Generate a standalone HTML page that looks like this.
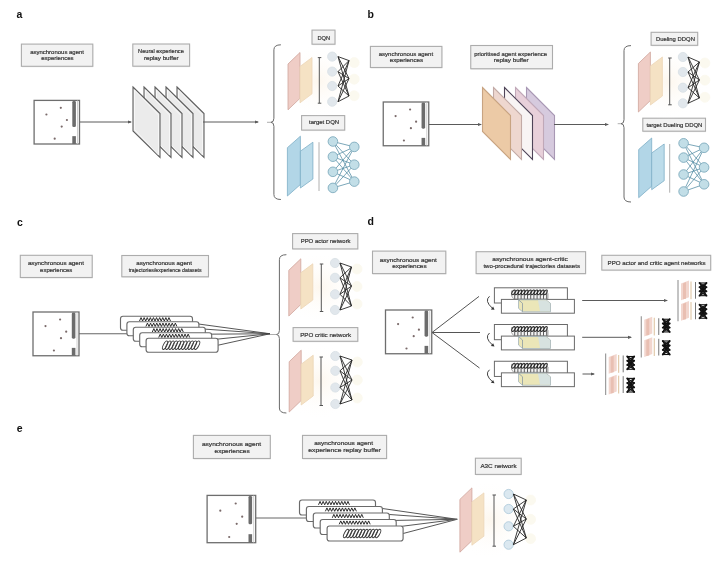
<!DOCTYPE html>
<html><head><meta charset="utf-8"><style>
html,body{margin:0;padding:0;background:#fff;width:727px;height:561px;overflow:hidden}
svg{display:block;filter:blur(0.3px)}
</style></head><body>
<svg width="727" height="561" viewBox="0 0 727 561" font-family='"Liberation Sans", sans-serif'>
<defs><radialGradient id="warm" cx="0.5" cy="0.5" r="0.5"><stop offset="0" stop-color="#fdf7ee"/><stop offset="1" stop-color="#fff" stop-opacity="0"/></radialGradient></defs>
<rect width="727" height="561" fill="#fff"/>
<text x="16.5" y="18" font-size="10.5" font-weight="bold" fill="#111">a</text>
<rect x="21.9" y="45.1" width="71.4" height="22.199999999999996" fill="#d8d8d8" opacity="0.45"/>
<rect x="21.4" y="44.1" width="71.4" height="22.199999999999996" fill="#f2f2f2" stroke="#acacac" stroke-width="1.1"/>
<text x="30.2" y="54.00" font-size="6" fill="#343434" stroke="#343434" stroke-width="0.2" textLength="53.8" lengthAdjust="spacingAndGlyphs">asynchronous agent</text>
<text x="41.3" y="60.40" font-size="6" fill="#343434" stroke="#343434" stroke-width="0.2" textLength="32.2" lengthAdjust="spacingAndGlyphs">experiences</text>
<rect x="133.3" y="45" width="56.79999999999998" height="22.200000000000003" fill="#d8d8d8" opacity="0.45"/>
<rect x="132.8" y="44" width="56.79999999999998" height="22.200000000000003" fill="#f2f2f2" stroke="#acacac" stroke-width="1.1"/>
<text x="138.1" y="53.40" font-size="6" fill="#343434" stroke="#343434" stroke-width="0.2" textLength="45.7" lengthAdjust="spacingAndGlyphs">Neural experience</text>
<text x="143.9" y="60.40" font-size="6" fill="#343434" stroke="#343434" stroke-width="0.2" textLength="34.6" lengthAdjust="spacingAndGlyphs">replay buffer</text>
<rect x="34.1" y="100.4" width="45.4" height="43.599999999999994" fill="#fff" stroke="#6e6e6e" stroke-width="1.3"/>
<rect x="72.3" y="100.9" width="3.6" height="26.159999999999997" rx="1.4" fill="#6c6c6c"/>
<rect x="72.3" y="136.152" width="3.6" height="7.847999999999999" fill="#6c6c6c"/>
<line x1="77.5" y1="100.4" x2="77.5" y2="144" stroke="#c4c4c4" stroke-width="0.8"/>
<circle cx="46.4" cy="114.5" r="1.1" fill="#7a6a6a"/>
<circle cx="60.8" cy="107.8" r="1.1" fill="#7a6a6a"/>
<circle cx="66.9" cy="120.0" r="1.1" fill="#7a6a6a"/>
<circle cx="61.7" cy="126.6" r="1.1" fill="#7a6a6a"/>
<circle cx="54.7" cy="138.7" r="1.1" fill="#7a6a6a"/>
<line x1="80" y1="122" x2="131" y2="122" stroke="#5a5a5a" stroke-width="1.0"/>
<path d="M132,122 L128,120.4 L128,123.6 Z" fill="#5a5a5a"/>
<path d="M177,87 L204,113.5 L204,157.5 L177,131 Z" fill="#ebebeb" stroke="#5e5e5e" stroke-width="1.1"/>
<path d="M178.5,90 L202.5,115.0 L202.5,155.0 L178.5,129.5 Z" fill="none" stroke="#fafafa" stroke-width="0.8"/>
<path d="M166,87 L193,113.5 L193,157.5 L166,131 Z" fill="#ebebeb" stroke="#5e5e5e" stroke-width="1.1"/>
<path d="M167.5,90 L191.5,115.0 L191.5,155.0 L167.5,129.5 Z" fill="none" stroke="#fafafa" stroke-width="0.8"/>
<path d="M155,87 L182,113.5 L182,157.5 L155,131 Z" fill="#ebebeb" stroke="#5e5e5e" stroke-width="1.1"/>
<path d="M156.5,90 L180.5,115.0 L180.5,155.0 L156.5,129.5 Z" fill="none" stroke="#fafafa" stroke-width="0.8"/>
<path d="M144,87 L171,113.5 L171,157.5 L144,131 Z" fill="#ebebeb" stroke="#5e5e5e" stroke-width="1.1"/>
<path d="M145.5,90 L169.5,115.0 L169.5,155.0 L145.5,129.5 Z" fill="none" stroke="#fafafa" stroke-width="0.8"/>
<path d="M133,87 L160,113.5 L160,157.5 L133,131 Z" fill="#ebebeb" stroke="#5e5e5e" stroke-width="1.1"/>
<path d="M134.5,90 L158.5,115.0 L158.5,155.0 L134.5,129.5 Z" fill="none" stroke="#fafafa" stroke-width="0.8"/>
<line x1="203" y1="122" x2="258" y2="122" stroke="#5a5a5a" stroke-width="1.0"/>
<path d="M259,122 L255,120.4 L255,123.6 Z" fill="#5a5a5a"/>
<path d="M280.9,44.8 Q273.9,44.8 273.9,49.8 L273.9,118.3 Q273.9,122.3 270.9,122.3 Q273.9,122.3 273.9,126.3 L273.9,194.5 Q273.9,199.5 280.9,199.5" fill="none" stroke="#6a6a6a" stroke-width="1"/>
<line x1="267" y1="122.3" x2="270.9" y2="122.3" stroke="#999" stroke-width="0.8"/>
<rect x="312.5" y="31.1" width="23" height="14.100000000000001" fill="#d8d8d8" opacity="0.45"/>
<rect x="312" y="30.1" width="23" height="14.100000000000001" fill="#f2f2f2" stroke="#acacac" stroke-width="1.1"/>
<text x="317.5" y="39.60" font-size="6" fill="#343434" stroke="#343434" stroke-width="0.2" textLength="12.7" lengthAdjust="spacingAndGlyphs">DQN</text>
<rect x="302.1" y="116.6" width="43.099999999999966" height="14.5" fill="#d8d8d8" opacity="0.45"/>
<rect x="301.6" y="115.6" width="43.099999999999966" height="14.5" fill="#f2f2f2" stroke="#acacac" stroke-width="1.1"/>
<text x="309" y="124.40" font-size="6" fill="#343434" stroke="#343434" stroke-width="0.2" textLength="30.1" lengthAdjust="spacingAndGlyphs">target DQN</text>
<ellipse cx="318" cy="81.15" rx="40" ry="36.65" fill="url(#warm)"/>
<path d="M288,64.0 L300,52.5 L300,98.3 L288,109.8 Z" fill="#efcdc6" stroke="#cfa49c" stroke-width="0.8" opacity="1"/>
<path d="M300,66.5 L312,57.5 L312,93.8 L300,102.8 Z" fill="#f5e2c4" stroke="#ecd6b8" stroke-width="0.8" opacity="1"/>
<line x1="319.3" y1="57.6" x2="319.3" y2="103.2" stroke="#555" stroke-width="1"/>
<line x1="317.8" y1="57.6" x2="321.3" y2="57.6" stroke="#555" stroke-width="1"/>
<line x1="317.8" y1="103.2" x2="321.3" y2="103.2" stroke="#555" stroke-width="1"/>
<circle cx="332.2" cy="56.6" r="4.6" fill="#e1e7ec" stroke="#d8dfe5" stroke-width="0.8" opacity="1"/>
<circle cx="332.2" cy="71.6" r="4.6" fill="#e1e7ec" stroke="#d8dfe5" stroke-width="0.8" opacity="1"/>
<circle cx="332.2" cy="86" r="4.6" fill="#e1e7ec" stroke="#d8dfe5" stroke-width="0.8" opacity="1"/>
<circle cx="332.2" cy="101.7" r="4.6" fill="#e1e7ec" stroke="#d8dfe5" stroke-width="0.8" opacity="1"/>
<circle cx="354.2" cy="62.6" r="5" fill="#fbf9ef" stroke="#fbf9ef" stroke-width="0.8" opacity="1"/>
<circle cx="354.2" cy="79.15" r="5" fill="#fbf9ef" stroke="#fbf9ef" stroke-width="0.8" opacity="1"/>
<circle cx="354.2" cy="95.7" r="5" fill="#fbf9ef" stroke="#fbf9ef" stroke-width="0.8" opacity="1"/>
<line x1="338" y1="56.6" x2="349" y2="60.6" stroke="#262626" stroke-width="0.9"/>
<line x1="338" y1="56.6" x2="349" y2="78.6" stroke="#262626" stroke-width="0.9"/>
<line x1="338" y1="56.6" x2="349" y2="96" stroke="#262626" stroke-width="0.9"/>
<line x1="338" y1="71.6" x2="349" y2="60.6" stroke="#262626" stroke-width="0.9"/>
<line x1="338" y1="71.6" x2="349" y2="78.6" stroke="#262626" stroke-width="0.9"/>
<line x1="338" y1="71.6" x2="349" y2="96" stroke="#262626" stroke-width="0.9"/>
<line x1="338" y1="86" x2="349" y2="60.6" stroke="#262626" stroke-width="0.9"/>
<line x1="338" y1="86" x2="349" y2="78.6" stroke="#262626" stroke-width="0.9"/>
<line x1="338" y1="86" x2="349" y2="96" stroke="#262626" stroke-width="0.9"/>
<line x1="338" y1="101.7" x2="349" y2="60.6" stroke="#262626" stroke-width="0.9"/>
<line x1="338" y1="101.7" x2="349" y2="78.6" stroke="#262626" stroke-width="0.9"/>
<line x1="338" y1="101.7" x2="349" y2="96" stroke="#262626" stroke-width="0.9"/>
<path d="M287.4,147.7 L300.4,136.2 L300.4,184.5 L287.4,196 Z" fill="#b2d6e7" stroke="#7eaec6" stroke-width="0.8" opacity="1"/>
<path d="M300.4,151.2 L312.9,142.2 L312.9,179 L300.4,188 Z" fill="#bcdcea" stroke="#7eaec6" stroke-width="0.8" opacity="1"/>
<line x1="319" y1="142.2" x2="319" y2="191" stroke="#b0b0b0" stroke-width="1"/>
<line x1="332.9" y1="141.5" x2="354.3" y2="146.9" stroke="#4f8aa2" stroke-width="0.75"/>
<line x1="332.9" y1="141.5" x2="354.3" y2="164.7" stroke="#4f8aa2" stroke-width="0.75"/>
<line x1="332.9" y1="141.5" x2="354.3" y2="181.6" stroke="#4f8aa2" stroke-width="0.75"/>
<line x1="332.9" y1="156.7" x2="354.3" y2="146.9" stroke="#4f8aa2" stroke-width="0.75"/>
<line x1="332.9" y1="156.7" x2="354.3" y2="164.7" stroke="#4f8aa2" stroke-width="0.75"/>
<line x1="332.9" y1="156.7" x2="354.3" y2="181.6" stroke="#4f8aa2" stroke-width="0.75"/>
<line x1="332.9" y1="171.8" x2="354.3" y2="146.9" stroke="#4f8aa2" stroke-width="0.75"/>
<line x1="332.9" y1="171.8" x2="354.3" y2="164.7" stroke="#4f8aa2" stroke-width="0.75"/>
<line x1="332.9" y1="171.8" x2="354.3" y2="181.6" stroke="#4f8aa2" stroke-width="0.75"/>
<line x1="332.9" y1="187.9" x2="354.3" y2="146.9" stroke="#4f8aa2" stroke-width="0.75"/>
<line x1="332.9" y1="187.9" x2="354.3" y2="164.7" stroke="#4f8aa2" stroke-width="0.75"/>
<line x1="332.9" y1="187.9" x2="354.3" y2="181.6" stroke="#4f8aa2" stroke-width="0.75"/>
<circle cx="332.9" cy="141.5" r="4.8" fill="#c2dee7" stroke="#7aa8ba" stroke-width="0.85" opacity="1"/>
<circle cx="332.9" cy="156.7" r="4.8" fill="#c2dee7" stroke="#7aa8ba" stroke-width="0.85" opacity="1"/>
<circle cx="332.9" cy="171.8" r="4.8" fill="#c2dee7" stroke="#7aa8ba" stroke-width="0.85" opacity="1"/>
<circle cx="332.9" cy="187.9" r="4.8" fill="#c2dee7" stroke="#7aa8ba" stroke-width="0.85" opacity="1"/>
<circle cx="354.3" cy="146.9" r="4.8" fill="#c2dee7" stroke="#7aa8ba" stroke-width="0.85" opacity="1"/>
<circle cx="354.3" cy="164.7" r="4.8" fill="#c2dee7" stroke="#7aa8ba" stroke-width="0.85" opacity="1"/>
<circle cx="354.3" cy="181.6" r="4.8" fill="#c2dee7" stroke="#7aa8ba" stroke-width="0.85" opacity="1"/>
<text x="367.5" y="18" font-size="10.5" font-weight="bold" fill="#111">b</text>
<rect x="370.9" y="47.4" width="71.5" height="21.1" fill="#d8d8d8" opacity="0.45"/>
<rect x="370.4" y="46.4" width="71.5" height="21.1" fill="#f2f2f2" stroke="#acacac" stroke-width="1.1"/>
<text x="378.7" y="55.80" font-size="6" fill="#343434" stroke="#343434" stroke-width="0.2" textLength="54.4" lengthAdjust="spacingAndGlyphs">asynchronous agent</text>
<text x="389.7" y="62.10" font-size="6" fill="#343434" stroke="#343434" stroke-width="0.2" textLength="33.5" lengthAdjust="spacingAndGlyphs">experiences</text>
<rect x="471.25" y="46.5" width="81.75" height="23.25" fill="#d8d8d8" opacity="0.45"/>
<rect x="470.75" y="45.5" width="81.75" height="23.25" fill="#f2f2f2" stroke="#acacac" stroke-width="1.1"/>
<text x="474.2" y="55.60" font-size="6" fill="#343434" stroke="#343434" stroke-width="0.2" textLength="72.8" lengthAdjust="spacingAndGlyphs">prioritised agent experience</text>
<text x="493.8" y="62.00" font-size="6" fill="#343434" stroke="#343434" stroke-width="0.2" textLength="34.9" lengthAdjust="spacingAndGlyphs">replay buffer</text>
<rect x="383.25" y="102" width="45.5" height="43.75" fill="#fff" stroke="#6e6e6e" stroke-width="1.3"/>
<rect x="421.55" y="102.5" width="3.6" height="26.25" rx="1.4" fill="#6c6c6c"/>
<rect x="421.55" y="137.875" width="3.6" height="7.875" fill="#6c6c6c"/>
<line x1="426.75" y1="102" x2="426.75" y2="145.75" stroke="#c4c4c4" stroke-width="0.8"/>
<circle cx="395.6" cy="116.1" r="1.1" fill="#7a6a6a"/>
<circle cx="410.1" cy="109.5" r="1.1" fill="#7a6a6a"/>
<circle cx="416.1" cy="121.7" r="1.1" fill="#7a6a6a"/>
<circle cx="410.9" cy="128.2" r="1.1" fill="#7a6a6a"/>
<circle cx="403.9" cy="140.5" r="1.1" fill="#7a6a6a"/>
<line x1="429" y1="124.5" x2="481" y2="124.5" stroke="#5a5a5a" stroke-width="1.0"/>
<path d="M482,124.5 L478,122.9 L478,126.1 Z" fill="#5a5a5a"/>
<path d="M526.5,87.5 L554.5,115.5 L554.5,159.5 L526.5,131.5 Z" fill="#d6cade" stroke="#a898b4" stroke-width="1.1"/>
<path d="M515.5,87.5 L543.5,115.5 L543.5,159.5 L515.5,131.5 Z" fill="#e8d0da" stroke="#c0a8b8" stroke-width="1.1"/>
<path d="M504.5,87.5 L532.5,115.5 L532.5,159.5 L504.5,131.5 Z" fill="#f8f4f4" stroke="#4e4458" stroke-width="1.1"/>
<path d="M493.5,87.5 L521.5,115.5 L521.5,159.5 L493.5,131.5 Z" fill="#eed7cf" stroke="#c2aaa6" stroke-width="1.1"/>
<path d="M482.5,87.5 L510.5,115.5 L510.5,159.5 L482.5,131.5 Z" fill="#eccaa6" stroke="#c8a482" stroke-width="1.1"/>
<line x1="554" y1="124.5" x2="608" y2="124.5" stroke="#5a5a5a" stroke-width="1.0"/>
<path d="M609,124.5 L605,122.9 L605,126.1 Z" fill="#5a5a5a"/>
<path d="M631,45.6 Q624,45.6 624,50.6 L624,119.7 Q624,123.7 621,123.7 Q624,123.7 624,127.7 L624,197 Q624,202 631,202" fill="none" stroke="#6a6a6a" stroke-width="1"/>
<line x1="617.7" y1="123.7" x2="621" y2="123.7" stroke="#999" stroke-width="0.8"/>
<rect x="651.6" y="33.3" width="46.60000000000002" height="13.0" fill="#d8d8d8" opacity="0.45"/>
<rect x="651.1" y="32.3" width="46.60000000000002" height="13.0" fill="#f2f2f2" stroke="#acacac" stroke-width="1.1"/>
<text x="655.9" y="40.70" font-size="6" fill="#343434" stroke="#343434" stroke-width="0.2" textLength="39.0" lengthAdjust="spacingAndGlyphs">Dueling DDQN</text>
<rect x="643.3" y="119.2" width="62.700000000000045" height="12.999999999999986" fill="#d8d8d8" opacity="0.45"/>
<rect x="642.8" y="118.2" width="62.700000000000045" height="12.999999999999986" fill="#f2f2f2" stroke="#acacac" stroke-width="1.1"/>
<text x="646.4" y="126.90" font-size="6" fill="#343434" stroke="#343434" stroke-width="0.2" textLength="56.0" lengthAdjust="spacingAndGlyphs">target Dueling DDQN</text>
<ellipse cx="668.4" cy="82.0" rx="40" ry="38.0" fill="url(#warm)"/>
<path d="M638.4,63.5 L650.4,52 L650.4,100.5 L638.4,112 Z" fill="#efcdc6" stroke="#cfa49c" stroke-width="0.8" opacity="1"/>
<path d="M650.4,66 L662.4,57 L662.4,96 L650.4,105 Z" fill="#f5e2c4" stroke="#ecd6b8" stroke-width="0.8" opacity="1"/>
<line x1="669.7" y1="58" x2="669.7" y2="104.8" stroke="#555" stroke-width="1"/>
<line x1="668.2" y1="58" x2="671.7" y2="58" stroke="#555" stroke-width="1"/>
<line x1="668.2" y1="104.8" x2="671.7" y2="104.8" stroke="#555" stroke-width="1"/>
<circle cx="682.9" cy="57" r="4.6" fill="#e1e7ec" stroke="#d8dfe5" stroke-width="0.8" opacity="1"/>
<circle cx="682.9" cy="72" r="4.6" fill="#e1e7ec" stroke="#d8dfe5" stroke-width="0.8" opacity="1"/>
<circle cx="682.9" cy="87.7" r="4.6" fill="#e1e7ec" stroke="#d8dfe5" stroke-width="0.8" opacity="1"/>
<circle cx="682.9" cy="103.3" r="4.6" fill="#e1e7ec" stroke="#d8dfe5" stroke-width="0.8" opacity="1"/>
<circle cx="704.9" cy="63" r="5" fill="#fbf9ef" stroke="#fbf9ef" stroke-width="0.8" opacity="1"/>
<circle cx="704.9" cy="80.15" r="5" fill="#fbf9ef" stroke="#fbf9ef" stroke-width="0.8" opacity="1"/>
<circle cx="704.9" cy="97.3" r="5" fill="#fbf9ef" stroke="#fbf9ef" stroke-width="0.8" opacity="1"/>
<line x1="688" y1="57" x2="699.4" y2="62" stroke="#262626" stroke-width="0.9"/>
<line x1="688" y1="57" x2="699.4" y2="80" stroke="#262626" stroke-width="0.9"/>
<line x1="688" y1="57" x2="699.4" y2="98" stroke="#262626" stroke-width="0.9"/>
<line x1="688" y1="72" x2="699.4" y2="62" stroke="#262626" stroke-width="0.9"/>
<line x1="688" y1="72" x2="699.4" y2="80" stroke="#262626" stroke-width="0.9"/>
<line x1="688" y1="72" x2="699.4" y2="98" stroke="#262626" stroke-width="0.9"/>
<line x1="688" y1="87.7" x2="699.4" y2="62" stroke="#262626" stroke-width="0.9"/>
<line x1="688" y1="87.7" x2="699.4" y2="80" stroke="#262626" stroke-width="0.9"/>
<line x1="688" y1="87.7" x2="699.4" y2="98" stroke="#262626" stroke-width="0.9"/>
<line x1="688" y1="103.3" x2="699.4" y2="62" stroke="#262626" stroke-width="0.9"/>
<line x1="688" y1="103.3" x2="699.4" y2="80" stroke="#262626" stroke-width="0.9"/>
<line x1="688" y1="103.3" x2="699.4" y2="98" stroke="#262626" stroke-width="0.9"/>
<path d="M638.7,149.5 L651.7,138 L651.7,186.2 L638.7,197.7 Z" fill="#b2d6e7" stroke="#7eaec6" stroke-width="0.8" opacity="1"/>
<path d="M651.7,153 L664.2,144 L664.2,180.7 L651.7,189.7 Z" fill="#bcdcea" stroke="#7eaec6" stroke-width="0.8" opacity="1"/>
<line x1="669.7" y1="144" x2="669.7" y2="192.7" stroke="#b0b0b0" stroke-width="1"/>
<line x1="683.6" y1="143.3" x2="704.1" y2="147.8" stroke="#4f8aa2" stroke-width="0.75"/>
<line x1="683.6" y1="143.3" x2="704.1" y2="167.4" stroke="#4f8aa2" stroke-width="0.75"/>
<line x1="683.6" y1="143.3" x2="704.1" y2="184.3" stroke="#4f8aa2" stroke-width="0.75"/>
<line x1="683.6" y1="157.6" x2="704.1" y2="147.8" stroke="#4f8aa2" stroke-width="0.75"/>
<line x1="683.6" y1="157.6" x2="704.1" y2="167.4" stroke="#4f8aa2" stroke-width="0.75"/>
<line x1="683.6" y1="157.6" x2="704.1" y2="184.3" stroke="#4f8aa2" stroke-width="0.75"/>
<line x1="683.6" y1="174.5" x2="704.1" y2="147.8" stroke="#4f8aa2" stroke-width="0.75"/>
<line x1="683.6" y1="174.5" x2="704.1" y2="167.4" stroke="#4f8aa2" stroke-width="0.75"/>
<line x1="683.6" y1="174.5" x2="704.1" y2="184.3" stroke="#4f8aa2" stroke-width="0.75"/>
<line x1="683.6" y1="191.5" x2="704.1" y2="147.8" stroke="#4f8aa2" stroke-width="0.75"/>
<line x1="683.6" y1="191.5" x2="704.1" y2="167.4" stroke="#4f8aa2" stroke-width="0.75"/>
<line x1="683.6" y1="191.5" x2="704.1" y2="184.3" stroke="#4f8aa2" stroke-width="0.75"/>
<circle cx="683.6" cy="143.3" r="4.8" fill="#c2dee7" stroke="#7aa8ba" stroke-width="0.85" opacity="1"/>
<circle cx="683.6" cy="157.6" r="4.8" fill="#c2dee7" stroke="#7aa8ba" stroke-width="0.85" opacity="1"/>
<circle cx="683.6" cy="174.5" r="4.8" fill="#c2dee7" stroke="#7aa8ba" stroke-width="0.85" opacity="1"/>
<circle cx="683.6" cy="191.5" r="4.8" fill="#c2dee7" stroke="#7aa8ba" stroke-width="0.85" opacity="1"/>
<circle cx="704.1" cy="147.8" r="4.8" fill="#c2dee7" stroke="#7aa8ba" stroke-width="0.85" opacity="1"/>
<circle cx="704.1" cy="167.4" r="4.8" fill="#c2dee7" stroke="#7aa8ba" stroke-width="0.85" opacity="1"/>
<circle cx="704.1" cy="184.3" r="4.8" fill="#c2dee7" stroke="#7aa8ba" stroke-width="0.85" opacity="1"/>
<text x="17" y="226" font-size="10.5" font-weight="bold" fill="#111">c</text>
<rect x="20.8" y="256.3" width="71.9" height="22.19999999999999" fill="#d8d8d8" opacity="0.45"/>
<rect x="20.3" y="255.3" width="71.9" height="22.19999999999999" fill="#f2f2f2" stroke="#acacac" stroke-width="1.1"/>
<text x="27.9" y="265.20" font-size="6" fill="#343434" stroke="#343434" stroke-width="0.2" textLength="56.1" lengthAdjust="spacingAndGlyphs">asynchronous agent</text>
<text x="40.1" y="271.80" font-size="6" fill="#343434" stroke="#343434" stroke-width="0.2" textLength="32.2" lengthAdjust="spacingAndGlyphs">experiences</text>
<rect x="122.3" y="256.5" width="86.7" height="21.30000000000001" fill="#d8d8d8" opacity="0.45"/>
<rect x="121.8" y="255.5" width="86.7" height="21.30000000000001" fill="#f2f2f2" stroke="#acacac" stroke-width="1.1"/>
<text x="136.3" y="265.00" font-size="6" fill="#343434" stroke="#343434" stroke-width="0.2" textLength="55.7" lengthAdjust="spacingAndGlyphs">asynchronous agent</text>
<text x="128.7" y="272.10" font-size="6" fill="#343434" stroke="#343434" stroke-width="0.2" textLength="72.9" lengthAdjust="spacingAndGlyphs">trajectories/experience datasets</text>
<rect x="33" y="312" width="46" height="43.75" fill="#fff" stroke="#6e6e6e" stroke-width="1.3"/>
<rect x="71.8" y="312.5" width="3.6" height="26.25" rx="1.4" fill="#6c6c6c"/>
<rect x="71.8" y="347.875" width="3.6" height="7.875" fill="#6c6c6c"/>
<line x1="77" y1="312" x2="77" y2="355.75" stroke="#c4c4c4" stroke-width="0.8"/>
<circle cx="45.5" cy="326.1" r="1.1" fill="#7a6a6a"/>
<circle cx="60.1" cy="319.5" r="1.1" fill="#7a6a6a"/>
<circle cx="66.2" cy="331.7" r="1.1" fill="#7a6a6a"/>
<circle cx="61.0" cy="338.2" r="1.1" fill="#7a6a6a"/>
<circle cx="53.9" cy="350.5" r="1.1" fill="#7a6a6a"/>
<line x1="79" y1="333.75" x2="127" y2="333.75" stroke="#666" stroke-width="1"/>
<line x1="192.5" y1="323.2" x2="270" y2="333.75" stroke="#444" stroke-width="0.9"/>
<line x1="198.9" y1="328.7" x2="270" y2="333.75" stroke="#444" stroke-width="0.9"/>
<line x1="205.3" y1="334.2" x2="270" y2="333.75" stroke="#444" stroke-width="0.9"/>
<line x1="211.7" y1="339.7" x2="270" y2="333.75" stroke="#444" stroke-width="0.9"/>
<line x1="218.1" y1="345.2" x2="270" y2="333.75" stroke="#444" stroke-width="0.9"/>
<rect x="120.5" y="316.2" width="72" height="14" rx="2.5" fill="#fff" stroke="#6a6a6a" stroke-width="1.15"/>
<path d="M139.5,321.0 l1.55,-3.4 l1.55,3.4" fill="none" stroke="#222" stroke-width="0.95"/>
<path d="M142.6,321.0 l1.55,-3.4 l1.55,3.4" fill="none" stroke="#222" stroke-width="0.95"/>
<path d="M145.7,321.0 l1.55,-3.4 l1.55,3.4" fill="none" stroke="#222" stroke-width="0.95"/>
<path d="M148.8,321.0 l1.55,-3.4 l1.55,3.4" fill="none" stroke="#222" stroke-width="0.95"/>
<path d="M151.9,321.0 l1.55,-3.4 l1.55,3.4" fill="none" stroke="#222" stroke-width="0.95"/>
<path d="M155.0,321.0 l1.55,-3.4 l1.55,3.4" fill="none" stroke="#222" stroke-width="0.95"/>
<path d="M158.1,321.0 l1.55,-3.4 l1.55,3.4" fill="none" stroke="#222" stroke-width="0.95"/>
<path d="M161.2,321.0 l1.55,-3.4 l1.55,3.4" fill="none" stroke="#222" stroke-width="0.95"/>
<path d="M164.3,321.0 l1.55,-3.4 l1.55,3.4" fill="none" stroke="#222" stroke-width="0.95"/>
<path d="M167.4,321.0 l1.55,-3.4 l1.55,3.4" fill="none" stroke="#222" stroke-width="0.95"/>
<rect x="126.9" y="321.7" width="72" height="14" rx="2.5" fill="#fff" stroke="#6a6a6a" stroke-width="1.15"/>
<path d="M145.9,326.5 l1.55,-3.4 l1.55,3.4" fill="none" stroke="#222" stroke-width="0.95"/>
<path d="M149.0,326.5 l1.55,-3.4 l1.55,3.4" fill="none" stroke="#222" stroke-width="0.95"/>
<path d="M152.1,326.5 l1.55,-3.4 l1.55,3.4" fill="none" stroke="#222" stroke-width="0.95"/>
<path d="M155.20000000000002,326.5 l1.55,-3.4 l1.55,3.4" fill="none" stroke="#222" stroke-width="0.95"/>
<path d="M158.3,326.5 l1.55,-3.4 l1.55,3.4" fill="none" stroke="#222" stroke-width="0.95"/>
<path d="M161.4,326.5 l1.55,-3.4 l1.55,3.4" fill="none" stroke="#222" stroke-width="0.95"/>
<path d="M164.5,326.5 l1.55,-3.4 l1.55,3.4" fill="none" stroke="#222" stroke-width="0.95"/>
<path d="M167.6,326.5 l1.55,-3.4 l1.55,3.4" fill="none" stroke="#222" stroke-width="0.95"/>
<path d="M170.70000000000002,326.5 l1.55,-3.4 l1.55,3.4" fill="none" stroke="#222" stroke-width="0.95"/>
<path d="M173.8,326.5 l1.55,-3.4 l1.55,3.4" fill="none" stroke="#222" stroke-width="0.95"/>
<rect x="133.3" y="327.2" width="72" height="14" rx="2.5" fill="#fff" stroke="#6a6a6a" stroke-width="1.15"/>
<path d="M152.3,332.0 l1.55,-3.4 l1.55,3.4" fill="none" stroke="#222" stroke-width="0.95"/>
<path d="M155.4,332.0 l1.55,-3.4 l1.55,3.4" fill="none" stroke="#222" stroke-width="0.95"/>
<path d="M158.5,332.0 l1.55,-3.4 l1.55,3.4" fill="none" stroke="#222" stroke-width="0.95"/>
<path d="M161.60000000000002,332.0 l1.55,-3.4 l1.55,3.4" fill="none" stroke="#222" stroke-width="0.95"/>
<path d="M164.70000000000002,332.0 l1.55,-3.4 l1.55,3.4" fill="none" stroke="#222" stroke-width="0.95"/>
<path d="M167.8,332.0 l1.55,-3.4 l1.55,3.4" fill="none" stroke="#222" stroke-width="0.95"/>
<path d="M170.9,332.0 l1.55,-3.4 l1.55,3.4" fill="none" stroke="#222" stroke-width="0.95"/>
<path d="M174.0,332.0 l1.55,-3.4 l1.55,3.4" fill="none" stroke="#222" stroke-width="0.95"/>
<path d="M177.10000000000002,332.0 l1.55,-3.4 l1.55,3.4" fill="none" stroke="#222" stroke-width="0.95"/>
<path d="M180.20000000000002,332.0 l1.55,-3.4 l1.55,3.4" fill="none" stroke="#222" stroke-width="0.95"/>
<rect x="139.7" y="332.7" width="72" height="14" rx="2.5" fill="#fff" stroke="#6a6a6a" stroke-width="1.15"/>
<path d="M158.7,337.5 l1.55,-3.4 l1.55,3.4" fill="none" stroke="#222" stroke-width="0.95"/>
<path d="M161.79999999999998,337.5 l1.55,-3.4 l1.55,3.4" fill="none" stroke="#222" stroke-width="0.95"/>
<path d="M164.89999999999998,337.5 l1.55,-3.4 l1.55,3.4" fill="none" stroke="#222" stroke-width="0.95"/>
<path d="M168.0,337.5 l1.55,-3.4 l1.55,3.4" fill="none" stroke="#222" stroke-width="0.95"/>
<path d="M171.1,337.5 l1.55,-3.4 l1.55,3.4" fill="none" stroke="#222" stroke-width="0.95"/>
<path d="M174.2,337.5 l1.55,-3.4 l1.55,3.4" fill="none" stroke="#222" stroke-width="0.95"/>
<path d="M177.29999999999998,337.5 l1.55,-3.4 l1.55,3.4" fill="none" stroke="#222" stroke-width="0.95"/>
<path d="M180.39999999999998,337.5 l1.55,-3.4 l1.55,3.4" fill="none" stroke="#222" stroke-width="0.95"/>
<path d="M183.5,337.5 l1.55,-3.4 l1.55,3.4" fill="none" stroke="#222" stroke-width="0.95"/>
<path d="M186.6,337.5 l1.55,-3.4 l1.55,3.4" fill="none" stroke="#222" stroke-width="0.95"/>
<rect x="146.1" y="338.2" width="72" height="14" rx="2.5" fill="#fff" stroke="#6a6a6a" stroke-width="1.15"/>
<ellipse cx="165.1" cy="345.2" rx="1.7" ry="4.7" fill="none" stroke="#3a3a3a" stroke-width="0.9" transform="rotate(28 165.1 345.2)"/>
<ellipse cx="168.29999999999998" cy="345.2" rx="1.7" ry="4.7" fill="none" stroke="#3a3a3a" stroke-width="0.9" transform="rotate(28 168.29999999999998 345.2)"/>
<ellipse cx="171.5" cy="345.2" rx="1.7" ry="4.7" fill="none" stroke="#3a3a3a" stroke-width="0.9" transform="rotate(28 171.5 345.2)"/>
<ellipse cx="174.7" cy="345.2" rx="1.7" ry="4.7" fill="none" stroke="#3a3a3a" stroke-width="0.9" transform="rotate(28 174.7 345.2)"/>
<ellipse cx="177.9" cy="345.2" rx="1.7" ry="4.7" fill="none" stroke="#3a3a3a" stroke-width="0.9" transform="rotate(28 177.9 345.2)"/>
<ellipse cx="181.1" cy="345.2" rx="1.7" ry="4.7" fill="none" stroke="#3a3a3a" stroke-width="0.9" transform="rotate(28 181.1 345.2)"/>
<ellipse cx="184.3" cy="345.2" rx="1.7" ry="4.7" fill="none" stroke="#3a3a3a" stroke-width="0.9" transform="rotate(28 184.3 345.2)"/>
<ellipse cx="187.5" cy="345.2" rx="1.7" ry="4.7" fill="none" stroke="#3a3a3a" stroke-width="0.9" transform="rotate(28 187.5 345.2)"/>
<ellipse cx="190.7" cy="345.2" rx="1.7" ry="4.7" fill="none" stroke="#3a3a3a" stroke-width="0.9" transform="rotate(28 190.7 345.2)"/>
<ellipse cx="193.9" cy="345.2" rx="1.7" ry="4.7" fill="none" stroke="#3a3a3a" stroke-width="0.9" transform="rotate(28 193.9 345.2)"/>
<ellipse cx="197.1" cy="345.2" rx="1.7" ry="4.7" fill="none" stroke="#3a3a3a" stroke-width="0.9" transform="rotate(28 197.1 345.2)"/>
<path d="M286.4,254.7 Q279.4,254.7 279.4,259.7 L279.4,330.5 Q279.4,334.5 276.4,334.5 Q279.4,334.5 279.4,338.5 L279.4,408 Q279.4,413 286.4,413" fill="none" stroke="#6a6a6a" stroke-width="1"/>
<line x1="270" y1="334.5" x2="276.4" y2="334.5" stroke="#999" stroke-width="0.8"/>
<rect x="293.1" y="234.6" width="65.19999999999999" height="15.300000000000011" fill="#d8d8d8" opacity="0.45"/>
<rect x="292.6" y="233.6" width="65.19999999999999" height="15.300000000000011" fill="#f2f2f2" stroke="#acacac" stroke-width="1.1"/>
<text x="300.7" y="243.30" font-size="6" fill="#343434" stroke="#343434" stroke-width="0.2" textLength="49.9" lengthAdjust="spacingAndGlyphs">PPO actor network</text>
<rect x="293.6" y="328.6" width="64.69999999999999" height="13.699999999999989" fill="#d8d8d8" opacity="0.45"/>
<rect x="293.1" y="327.6" width="64.69999999999999" height="13.699999999999989" fill="#f2f2f2" stroke="#acacac" stroke-width="1.1"/>
<text x="300.2" y="336.80" font-size="6" fill="#343434" stroke="#343434" stroke-width="0.2" textLength="50.9" lengthAdjust="spacingAndGlyphs">PPO critic network</text>
<ellipse cx="318.8" cy="287.4" rx="40" ry="36.599999999999994" fill="url(#warm)"/>
<path d="M288.8,270.3 L300.8,258.8 L300.8,304.5 L288.8,316 Z" fill="#efcdc6" stroke="#cfa49c" stroke-width="0.8" opacity="1"/>
<path d="M300.8,272.8 L312.8,263.8 L312.8,300 L300.8,309 Z" fill="#f5e2c4" stroke="#ecd6b8" stroke-width="0.8" opacity="1"/>
<line x1="321.3" y1="264" x2="321.3" y2="311.5" stroke="#555" stroke-width="1"/>
<line x1="319.8" y1="264" x2="323.3" y2="264" stroke="#555" stroke-width="1"/>
<line x1="319.8" y1="311.5" x2="323.3" y2="311.5" stroke="#555" stroke-width="1"/>
<circle cx="335" cy="263" r="4.6" fill="#e1e7ec" stroke="#d8dfe5" stroke-width="0.8" opacity="1"/>
<circle cx="335" cy="277.8" r="4.6" fill="#e1e7ec" stroke="#d8dfe5" stroke-width="0.8" opacity="1"/>
<circle cx="335" cy="294.3" r="4.6" fill="#e1e7ec" stroke="#d8dfe5" stroke-width="0.8" opacity="1"/>
<circle cx="335" cy="310" r="4.6" fill="#e1e7ec" stroke="#d8dfe5" stroke-width="0.8" opacity="1"/>
<circle cx="357" cy="269" r="5" fill="#fbf9ef" stroke="#fbf9ef" stroke-width="0.8" opacity="1"/>
<circle cx="357" cy="286.5" r="5" fill="#fbf9ef" stroke="#fbf9ef" stroke-width="0.8" opacity="1"/>
<circle cx="357" cy="304" r="5" fill="#fbf9ef" stroke="#fbf9ef" stroke-width="0.8" opacity="1"/>
<line x1="340" y1="263" x2="351.5" y2="267" stroke="#262626" stroke-width="0.9"/>
<line x1="340" y1="263" x2="351.5" y2="286" stroke="#262626" stroke-width="0.9"/>
<line x1="340" y1="263" x2="351.5" y2="306" stroke="#262626" stroke-width="0.9"/>
<line x1="340" y1="277.8" x2="351.5" y2="267" stroke="#262626" stroke-width="0.9"/>
<line x1="340" y1="277.8" x2="351.5" y2="286" stroke="#262626" stroke-width="0.9"/>
<line x1="340" y1="277.8" x2="351.5" y2="306" stroke="#262626" stroke-width="0.9"/>
<line x1="340" y1="294.3" x2="351.5" y2="267" stroke="#262626" stroke-width="0.9"/>
<line x1="340" y1="294.3" x2="351.5" y2="286" stroke="#262626" stroke-width="0.9"/>
<line x1="340" y1="294.3" x2="351.5" y2="306" stroke="#262626" stroke-width="0.9"/>
<line x1="340" y1="310" x2="351.5" y2="267" stroke="#262626" stroke-width="0.9"/>
<line x1="340" y1="310" x2="351.5" y2="286" stroke="#262626" stroke-width="0.9"/>
<line x1="340" y1="310" x2="351.5" y2="306" stroke="#262626" stroke-width="0.9"/>
<ellipse cx="319.2" cy="381.1" rx="40" ry="38.900000000000006" fill="url(#warm)"/>
<path d="M289.2,361.7 L301.2,350.2 L301.2,400.5 L289.2,412 Z" fill="#efcdc6" stroke="#cfa49c" stroke-width="0.8" opacity="1"/>
<path d="M301.2,364.2 L313.2,355.2 L313.2,396 L301.2,405 Z" fill="#f5e2c4" stroke="#ecd6b8" stroke-width="0.8" opacity="1"/>
<line x1="321" y1="357" x2="321" y2="405.5" stroke="#555" stroke-width="1"/>
<line x1="319.5" y1="357" x2="323" y2="357" stroke="#555" stroke-width="1"/>
<line x1="319.5" y1="405.5" x2="323" y2="405.5" stroke="#555" stroke-width="1"/>
<circle cx="335.3" cy="356" r="4.6" fill="#e1e7ec" stroke="#d8dfe5" stroke-width="0.8" opacity="1"/>
<circle cx="335.3" cy="370.8" r="4.6" fill="#e1e7ec" stroke="#d8dfe5" stroke-width="0.8" opacity="1"/>
<circle cx="335.3" cy="387.5" r="4.6" fill="#e1e7ec" stroke="#d8dfe5" stroke-width="0.8" opacity="1"/>
<circle cx="335.3" cy="404" r="4.6" fill="#e1e7ec" stroke="#d8dfe5" stroke-width="0.8" opacity="1"/>
<circle cx="357.3" cy="362" r="5" fill="#fbf9ef" stroke="#fbf9ef" stroke-width="0.8" opacity="1"/>
<circle cx="357.3" cy="380.0" r="5" fill="#fbf9ef" stroke="#fbf9ef" stroke-width="0.8" opacity="1"/>
<circle cx="357.3" cy="398" r="5" fill="#fbf9ef" stroke="#fbf9ef" stroke-width="0.8" opacity="1"/>
<line x1="340" y1="356" x2="352" y2="360" stroke="#262626" stroke-width="0.9"/>
<line x1="340" y1="356" x2="352" y2="380" stroke="#262626" stroke-width="0.9"/>
<line x1="340" y1="356" x2="352" y2="400" stroke="#262626" stroke-width="0.9"/>
<line x1="340" y1="370.8" x2="352" y2="360" stroke="#262626" stroke-width="0.9"/>
<line x1="340" y1="370.8" x2="352" y2="380" stroke="#262626" stroke-width="0.9"/>
<line x1="340" y1="370.8" x2="352" y2="400" stroke="#262626" stroke-width="0.9"/>
<line x1="340" y1="387.5" x2="352" y2="360" stroke="#262626" stroke-width="0.9"/>
<line x1="340" y1="387.5" x2="352" y2="380" stroke="#262626" stroke-width="0.9"/>
<line x1="340" y1="387.5" x2="352" y2="400" stroke="#262626" stroke-width="0.9"/>
<line x1="340" y1="404" x2="352" y2="360" stroke="#262626" stroke-width="0.9"/>
<line x1="340" y1="404" x2="352" y2="380" stroke="#262626" stroke-width="0.9"/>
<line x1="340" y1="404" x2="352" y2="400" stroke="#262626" stroke-width="0.9"/>
<text x="367.5" y="225" font-size="10.5" font-weight="bold" fill="#111">d</text>
<rect x="373.0" y="252.1" width="73.30000000000001" height="22.50000000000003" fill="#d8d8d8" opacity="0.45"/>
<rect x="372.5" y="251.1" width="73.30000000000001" height="22.50000000000003" fill="#f2f2f2" stroke="#acacac" stroke-width="1.1"/>
<text x="379.8" y="261.80" font-size="6" fill="#343434" stroke="#343434" stroke-width="0.2" textLength="57.0" lengthAdjust="spacingAndGlyphs">asynchronous agent</text>
<text x="392.2" y="268.30" font-size="6" fill="#343434" stroke="#343434" stroke-width="0.2" textLength="34.4" lengthAdjust="spacingAndGlyphs">experiences</text>
<rect x="476.6" y="252.7" width="109.5" height="21.900000000000034" fill="#d8d8d8" opacity="0.45"/>
<rect x="476.1" y="251.7" width="109.5" height="21.900000000000034" fill="#f2f2f2" stroke="#acacac" stroke-width="1.1"/>
<text x="492.3" y="260.70" font-size="6" fill="#343434" stroke="#343434" stroke-width="0.2" textLength="75.5" lengthAdjust="spacingAndGlyphs">asynchronous agent-critic</text>
<text x="483.4" y="268.00" font-size="6" fill="#343434" stroke="#343434" stroke-width="0.2" textLength="96.6" lengthAdjust="spacingAndGlyphs">two-procedural trajectories datasets</text>
<rect x="602.3" y="256.3" width="108.90000000000009" height="14.800000000000011" fill="#d8d8d8" opacity="0.45"/>
<rect x="601.8" y="255.3" width="108.90000000000009" height="14.800000000000011" fill="#f2f2f2" stroke="#acacac" stroke-width="1.1"/>
<text x="607.6" y="265.00" font-size="6" fill="#343434" stroke="#343434" stroke-width="0.2" textLength="98.1" lengthAdjust="spacingAndGlyphs">PPO actor and critic agent networks</text>
<rect x="385.5" y="310" width="46.25" height="43.75" fill="#fff" stroke="#6e6e6e" stroke-width="1.3"/>
<rect x="424.55" y="310.5" width="3.6" height="26.25" rx="1.4" fill="#6c6c6c"/>
<rect x="424.55" y="345.875" width="3.6" height="7.875" fill="#6c6c6c"/>
<line x1="429.75" y1="310" x2="429.75" y2="353.75" stroke="#c4c4c4" stroke-width="0.8"/>
<circle cx="398.1" cy="324.1" r="1.1" fill="#7a6a6a"/>
<circle cx="412.7" cy="317.5" r="1.1" fill="#7a6a6a"/>
<circle cx="418.9" cy="329.7" r="1.1" fill="#7a6a6a"/>
<circle cx="413.7" cy="336.2" r="1.1" fill="#7a6a6a"/>
<circle cx="406.5" cy="348.5" r="1.1" fill="#7a6a6a"/>
<line x1="432" y1="332.5" x2="479" y2="296.4" stroke="#555" stroke-width="1"/>
<line x1="432" y1="332.5" x2="480" y2="332.5" stroke="#555" stroke-width="1"/>
<line x1="432" y1="332.5" x2="479.5" y2="368" stroke="#555" stroke-width="1"/>
<path d="M489.5,296.3 Q484,300.8 492.5,308.3" fill="none" stroke="#444" stroke-width="1"/>
<path d="M494.5,309.8 l-3.6,-0.4 l2.2,-2.8 Z" fill="#333"/>
<rect x="494.4" y="287.8" width="73" height="15.2" fill="#fff" stroke="#6a6a6a" stroke-width="1"/>
<rect x="501.4" y="299.40000000000003" width="73" height="13.8" fill="#fff" stroke="#6a6a6a" stroke-width="1"/>
<path d="M511.5,290.8 L546,290.8 L548,293.8 L548,298.8 L513.5,298.8 L511.5,295.8 Z" fill="#f4f4f4" stroke="#777" stroke-width="0.6"/>
<ellipse cx="513.5" cy="292.3" rx="1.3" ry="2.6" fill="none" stroke="#2a2a2a" stroke-width="1" transform="rotate(30 513.5 292.3)"/>
<line x1="514.7" y1="293.3" x2="514.7" y2="298.8" stroke="#333" stroke-width="0.8"/>
<ellipse cx="516.7" cy="292.3" rx="1.3" ry="2.6" fill="none" stroke="#2a2a2a" stroke-width="1" transform="rotate(30 516.7 292.3)"/>
<line x1="517.9000000000001" y1="293.3" x2="517.9000000000001" y2="298.8" stroke="#333" stroke-width="0.8"/>
<ellipse cx="519.9" cy="292.3" rx="1.3" ry="2.6" fill="none" stroke="#2a2a2a" stroke-width="1" transform="rotate(30 519.9 292.3)"/>
<line x1="521.1" y1="293.3" x2="521.1" y2="298.8" stroke="#333" stroke-width="0.8"/>
<ellipse cx="523.1" cy="292.3" rx="1.3" ry="2.6" fill="none" stroke="#2a2a2a" stroke-width="1" transform="rotate(30 523.1 292.3)"/>
<line x1="524.3000000000001" y1="293.3" x2="524.3000000000001" y2="298.8" stroke="#333" stroke-width="0.8"/>
<ellipse cx="526.3" cy="292.3" rx="1.3" ry="2.6" fill="none" stroke="#2a2a2a" stroke-width="1" transform="rotate(30 526.3 292.3)"/>
<line x1="527.5" y1="293.3" x2="527.5" y2="298.8" stroke="#333" stroke-width="0.8"/>
<ellipse cx="529.5" cy="292.3" rx="1.3" ry="2.6" fill="none" stroke="#2a2a2a" stroke-width="1" transform="rotate(30 529.5 292.3)"/>
<line x1="530.7" y1="293.3" x2="530.7" y2="298.8" stroke="#333" stroke-width="0.8"/>
<ellipse cx="532.7" cy="292.3" rx="1.3" ry="2.6" fill="none" stroke="#2a2a2a" stroke-width="1" transform="rotate(30 532.7 292.3)"/>
<line x1="533.9000000000001" y1="293.3" x2="533.9000000000001" y2="298.8" stroke="#333" stroke-width="0.8"/>
<ellipse cx="535.9" cy="292.3" rx="1.3" ry="2.6" fill="none" stroke="#2a2a2a" stroke-width="1" transform="rotate(30 535.9 292.3)"/>
<line x1="537.1" y1="293.3" x2="537.1" y2="298.8" stroke="#333" stroke-width="0.8"/>
<ellipse cx="539.1" cy="292.3" rx="1.3" ry="2.6" fill="none" stroke="#2a2a2a" stroke-width="1" transform="rotate(30 539.1 292.3)"/>
<line x1="540.3000000000001" y1="293.3" x2="540.3000000000001" y2="298.8" stroke="#333" stroke-width="0.8"/>
<ellipse cx="542.3" cy="292.3" rx="1.3" ry="2.6" fill="none" stroke="#2a2a2a" stroke-width="1" transform="rotate(30 542.3 292.3)"/>
<line x1="543.5" y1="293.3" x2="543.5" y2="298.8" stroke="#333" stroke-width="0.8"/>
<ellipse cx="545.5" cy="292.3" rx="1.3" ry="2.6" fill="none" stroke="#2a2a2a" stroke-width="1" transform="rotate(30 545.5 292.3)"/>
<line x1="546.7" y1="293.3" x2="546.7" y2="298.8" stroke="#333" stroke-width="0.8"/>
<path d="M518.5,299.8 L546,299.8 L550.5,303.3 L550.5,311.8 L522.5,311.8 L518.5,308.3 Z" fill="#ebe6b8" stroke="#9aacb8" stroke-width="0.7"/>
<path d="M538,300.3 L546,300.3 L550,303.3 L550,311.3 L540,311.3 Z" fill="#d3e0e6" opacity="0.85"/>
<line x1="522.5" y1="303.3" x2="522.5" y2="311.8" stroke="#7d8fa0" stroke-width="0.7"/>
<line x1="518.5" y1="299.8" x2="522.5" y2="303.3" stroke="#7d8fa0" stroke-width="0.7"/>
<path d="M489.5,333.0 Q484,337.5 492.5,345.0" fill="none" stroke="#444" stroke-width="1"/>
<path d="M494.5,346.5 l-3.6,-0.4 l2.2,-2.8 Z" fill="#333"/>
<rect x="494.4" y="324.5" width="73" height="15.2" fill="#fff" stroke="#6a6a6a" stroke-width="1"/>
<rect x="501.4" y="336.1" width="73" height="13.8" fill="#fff" stroke="#6a6a6a" stroke-width="1"/>
<path d="M511.5,327.5 L546,327.5 L548,330.5 L548,335.5 L513.5,335.5 L511.5,332.5 Z" fill="#f4f4f4" stroke="#777" stroke-width="0.6"/>
<ellipse cx="513.5" cy="329.0" rx="1.3" ry="2.6" fill="none" stroke="#2a2a2a" stroke-width="1" transform="rotate(30 513.5 329.0)"/>
<line x1="514.7" y1="330.0" x2="514.7" y2="335.5" stroke="#333" stroke-width="0.8"/>
<ellipse cx="516.7" cy="329.0" rx="1.3" ry="2.6" fill="none" stroke="#2a2a2a" stroke-width="1" transform="rotate(30 516.7 329.0)"/>
<line x1="517.9000000000001" y1="330.0" x2="517.9000000000001" y2="335.5" stroke="#333" stroke-width="0.8"/>
<ellipse cx="519.9" cy="329.0" rx="1.3" ry="2.6" fill="none" stroke="#2a2a2a" stroke-width="1" transform="rotate(30 519.9 329.0)"/>
<line x1="521.1" y1="330.0" x2="521.1" y2="335.5" stroke="#333" stroke-width="0.8"/>
<ellipse cx="523.1" cy="329.0" rx="1.3" ry="2.6" fill="none" stroke="#2a2a2a" stroke-width="1" transform="rotate(30 523.1 329.0)"/>
<line x1="524.3000000000001" y1="330.0" x2="524.3000000000001" y2="335.5" stroke="#333" stroke-width="0.8"/>
<ellipse cx="526.3" cy="329.0" rx="1.3" ry="2.6" fill="none" stroke="#2a2a2a" stroke-width="1" transform="rotate(30 526.3 329.0)"/>
<line x1="527.5" y1="330.0" x2="527.5" y2="335.5" stroke="#333" stroke-width="0.8"/>
<ellipse cx="529.5" cy="329.0" rx="1.3" ry="2.6" fill="none" stroke="#2a2a2a" stroke-width="1" transform="rotate(30 529.5 329.0)"/>
<line x1="530.7" y1="330.0" x2="530.7" y2="335.5" stroke="#333" stroke-width="0.8"/>
<ellipse cx="532.7" cy="329.0" rx="1.3" ry="2.6" fill="none" stroke="#2a2a2a" stroke-width="1" transform="rotate(30 532.7 329.0)"/>
<line x1="533.9000000000001" y1="330.0" x2="533.9000000000001" y2="335.5" stroke="#333" stroke-width="0.8"/>
<ellipse cx="535.9" cy="329.0" rx="1.3" ry="2.6" fill="none" stroke="#2a2a2a" stroke-width="1" transform="rotate(30 535.9 329.0)"/>
<line x1="537.1" y1="330.0" x2="537.1" y2="335.5" stroke="#333" stroke-width="0.8"/>
<ellipse cx="539.1" cy="329.0" rx="1.3" ry="2.6" fill="none" stroke="#2a2a2a" stroke-width="1" transform="rotate(30 539.1 329.0)"/>
<line x1="540.3000000000001" y1="330.0" x2="540.3000000000001" y2="335.5" stroke="#333" stroke-width="0.8"/>
<ellipse cx="542.3" cy="329.0" rx="1.3" ry="2.6" fill="none" stroke="#2a2a2a" stroke-width="1" transform="rotate(30 542.3 329.0)"/>
<line x1="543.5" y1="330.0" x2="543.5" y2="335.5" stroke="#333" stroke-width="0.8"/>
<ellipse cx="545.5" cy="329.0" rx="1.3" ry="2.6" fill="none" stroke="#2a2a2a" stroke-width="1" transform="rotate(30 545.5 329.0)"/>
<line x1="546.7" y1="330.0" x2="546.7" y2="335.5" stroke="#333" stroke-width="0.8"/>
<path d="M518.5,336.5 L546,336.5 L550.5,340.0 L550.5,348.5 L522.5,348.5 L518.5,345.0 Z" fill="#ebe6b8" stroke="#9aacb8" stroke-width="0.7"/>
<path d="M538,337.0 L546,337.0 L550,340.0 L550,348.0 L540,348.0 Z" fill="#d3e0e6" opacity="0.85"/>
<line x1="522.5" y1="340.0" x2="522.5" y2="348.5" stroke="#7d8fa0" stroke-width="0.7"/>
<line x1="518.5" y1="336.5" x2="522.5" y2="340.0" stroke="#7d8fa0" stroke-width="0.7"/>
<path d="M489.5,369.75 Q484,374.25 492.5,381.75" fill="none" stroke="#444" stroke-width="1"/>
<path d="M494.5,383.25 l-3.6,-0.4 l2.2,-2.8 Z" fill="#333"/>
<rect x="494.4" y="361.25" width="73" height="15.2" fill="#fff" stroke="#6a6a6a" stroke-width="1"/>
<rect x="501.4" y="372.85" width="73" height="13.8" fill="#fff" stroke="#6a6a6a" stroke-width="1"/>
<path d="M511.5,364.25 L546,364.25 L548,367.25 L548,372.25 L513.5,372.25 L511.5,369.25 Z" fill="#f4f4f4" stroke="#777" stroke-width="0.6"/>
<ellipse cx="513.5" cy="365.75" rx="1.3" ry="2.6" fill="none" stroke="#2a2a2a" stroke-width="1" transform="rotate(30 513.5 365.75)"/>
<line x1="514.7" y1="366.75" x2="514.7" y2="372.25" stroke="#333" stroke-width="0.8"/>
<ellipse cx="516.7" cy="365.75" rx="1.3" ry="2.6" fill="none" stroke="#2a2a2a" stroke-width="1" transform="rotate(30 516.7 365.75)"/>
<line x1="517.9000000000001" y1="366.75" x2="517.9000000000001" y2="372.25" stroke="#333" stroke-width="0.8"/>
<ellipse cx="519.9" cy="365.75" rx="1.3" ry="2.6" fill="none" stroke="#2a2a2a" stroke-width="1" transform="rotate(30 519.9 365.75)"/>
<line x1="521.1" y1="366.75" x2="521.1" y2="372.25" stroke="#333" stroke-width="0.8"/>
<ellipse cx="523.1" cy="365.75" rx="1.3" ry="2.6" fill="none" stroke="#2a2a2a" stroke-width="1" transform="rotate(30 523.1 365.75)"/>
<line x1="524.3000000000001" y1="366.75" x2="524.3000000000001" y2="372.25" stroke="#333" stroke-width="0.8"/>
<ellipse cx="526.3" cy="365.75" rx="1.3" ry="2.6" fill="none" stroke="#2a2a2a" stroke-width="1" transform="rotate(30 526.3 365.75)"/>
<line x1="527.5" y1="366.75" x2="527.5" y2="372.25" stroke="#333" stroke-width="0.8"/>
<ellipse cx="529.5" cy="365.75" rx="1.3" ry="2.6" fill="none" stroke="#2a2a2a" stroke-width="1" transform="rotate(30 529.5 365.75)"/>
<line x1="530.7" y1="366.75" x2="530.7" y2="372.25" stroke="#333" stroke-width="0.8"/>
<ellipse cx="532.7" cy="365.75" rx="1.3" ry="2.6" fill="none" stroke="#2a2a2a" stroke-width="1" transform="rotate(30 532.7 365.75)"/>
<line x1="533.9000000000001" y1="366.75" x2="533.9000000000001" y2="372.25" stroke="#333" stroke-width="0.8"/>
<ellipse cx="535.9" cy="365.75" rx="1.3" ry="2.6" fill="none" stroke="#2a2a2a" stroke-width="1" transform="rotate(30 535.9 365.75)"/>
<line x1="537.1" y1="366.75" x2="537.1" y2="372.25" stroke="#333" stroke-width="0.8"/>
<ellipse cx="539.1" cy="365.75" rx="1.3" ry="2.6" fill="none" stroke="#2a2a2a" stroke-width="1" transform="rotate(30 539.1 365.75)"/>
<line x1="540.3000000000001" y1="366.75" x2="540.3000000000001" y2="372.25" stroke="#333" stroke-width="0.8"/>
<ellipse cx="542.3" cy="365.75" rx="1.3" ry="2.6" fill="none" stroke="#2a2a2a" stroke-width="1" transform="rotate(30 542.3 365.75)"/>
<line x1="543.5" y1="366.75" x2="543.5" y2="372.25" stroke="#333" stroke-width="0.8"/>
<ellipse cx="545.5" cy="365.75" rx="1.3" ry="2.6" fill="none" stroke="#2a2a2a" stroke-width="1" transform="rotate(30 545.5 365.75)"/>
<line x1="546.7" y1="366.75" x2="546.7" y2="372.25" stroke="#333" stroke-width="0.8"/>
<path d="M518.5,373.25 L546,373.25 L550.5,376.75 L550.5,385.25 L522.5,385.25 L518.5,381.75 Z" fill="#ebe6b8" stroke="#9aacb8" stroke-width="0.7"/>
<path d="M538,373.75 L546,373.75 L550,376.75 L550,384.75 L540,384.75 Z" fill="#d3e0e6" opacity="0.85"/>
<line x1="522.5" y1="376.75" x2="522.5" y2="385.25" stroke="#7d8fa0" stroke-width="0.7"/>
<line x1="518.5" y1="373.25" x2="522.5" y2="376.75" stroke="#7d8fa0" stroke-width="0.7"/>
<line x1="582.2" y1="300.5" x2="667" y2="300.5" stroke="#5a5a5a" stroke-width="1.0"/>
<path d="M668,300.5 L664,298.9 L664,302.1 Z" fill="#5a5a5a"/>
<line x1="582.2" y1="337.3" x2="631" y2="337.3" stroke="#5a5a5a" stroke-width="1.0"/>
<path d="M632,337.3 L628,335.7 L628,338.90000000000003 Z" fill="#5a5a5a"/>
<line x1="582.5" y1="374" x2="594" y2="374" stroke="#5a5a5a" stroke-width="1.0"/>
<path d="M595,374 L591,372.4 L591,375.6 Z" fill="#5a5a5a"/>
<line x1="678" y1="280" x2="678" y2="321.25" stroke="#7a7a7a" stroke-width="0.9"/>
<path d="M681,283.5 L689,280.5 L689,297.2125 L681,300.2125 Z" fill="#f2d6ce"/>
<path d="M683,283.5 L686,282.0 L686,298.7125 L683,299.2125 Z" fill="#e9bfb2"/>
<line x1="691" y1="281.5" x2="691" y2="299.2125" stroke="#dcc09a" stroke-width="1"/>
<line x1="695.5" y1="282.0" x2="695.5" y2="298.7125" stroke="#666" stroke-width="0.9"/>
<path d="M681,304.0375 L689,301.0375 L689,317.75 L681,320.75 Z" fill="#f2d6ce"/>
<path d="M683,304.0375 L686,302.5375 L686,319.25 L683,319.75 Z" fill="#e9bfb2"/>
<line x1="691" y1="302.0375" x2="691" y2="319.75" stroke="#dcc09a" stroke-width="1"/>
<line x1="695.5" y1="302.5375" x2="695.5" y2="319.25" stroke="#666" stroke-width="0.9"/>
<line x1="699.5" y1="283.0" x2="706.5" y2="283.0" stroke="#111" stroke-width="1.1"/>
<line x1="699.5" y1="283.0" x2="706.5" y2="287.18275" stroke="#111" stroke-width="1.1"/>
<line x1="699.5" y1="283.0" x2="706.5" y2="291.3655" stroke="#111" stroke-width="1.1"/>
<line x1="699.5" y1="283.0" x2="706.5" y2="295.675" stroke="#111" stroke-width="1.1"/>
<line x1="699.5" y1="287.18275" x2="706.5" y2="283.0" stroke="#111" stroke-width="1.1"/>
<line x1="699.5" y1="287.18275" x2="706.5" y2="287.18275" stroke="#111" stroke-width="1.1"/>
<line x1="699.5" y1="287.18275" x2="706.5" y2="291.3655" stroke="#111" stroke-width="1.1"/>
<line x1="699.5" y1="287.18275" x2="706.5" y2="295.675" stroke="#111" stroke-width="1.1"/>
<line x1="699.5" y1="291.3655" x2="706.5" y2="283.0" stroke="#111" stroke-width="1.1"/>
<line x1="699.5" y1="291.3655" x2="706.5" y2="287.18275" stroke="#111" stroke-width="1.1"/>
<line x1="699.5" y1="291.3655" x2="706.5" y2="291.3655" stroke="#111" stroke-width="1.1"/>
<line x1="699.5" y1="291.3655" x2="706.5" y2="295.675" stroke="#111" stroke-width="1.1"/>
<line x1="699.5" y1="295.675" x2="706.5" y2="283.0" stroke="#111" stroke-width="1.1"/>
<line x1="699.5" y1="295.675" x2="706.5" y2="287.18275" stroke="#111" stroke-width="1.1"/>
<line x1="699.5" y1="295.675" x2="706.5" y2="291.3655" stroke="#111" stroke-width="1.1"/>
<line x1="699.5" y1="295.675" x2="706.5" y2="295.675" stroke="#111" stroke-width="1.1"/>
<circle cx="699.5" cy="283.0" r="0.9" fill="#111"/>
<circle cx="706.5" cy="283.0" r="0.9" fill="#111"/>
<circle cx="699.5" cy="287.18275" r="0.9" fill="#111"/>
<circle cx="706.5" cy="287.18275" r="0.9" fill="#111"/>
<circle cx="699.5" cy="291.3655" r="0.9" fill="#111"/>
<circle cx="706.5" cy="291.3655" r="0.9" fill="#111"/>
<circle cx="699.5" cy="295.675" r="0.9" fill="#111"/>
<circle cx="706.5" cy="295.675" r="0.9" fill="#111"/>
<line x1="699.5" y1="304.75" x2="706.5" y2="304.75" stroke="#111" stroke-width="1.1"/>
<line x1="699.5" y1="304.75" x2="706.5" y2="309.205" stroke="#111" stroke-width="1.1"/>
<line x1="699.5" y1="304.75" x2="706.5" y2="313.66" stroke="#111" stroke-width="1.1"/>
<line x1="699.5" y1="304.75" x2="706.5" y2="318.25" stroke="#111" stroke-width="1.1"/>
<line x1="699.5" y1="309.205" x2="706.5" y2="304.75" stroke="#111" stroke-width="1.1"/>
<line x1="699.5" y1="309.205" x2="706.5" y2="309.205" stroke="#111" stroke-width="1.1"/>
<line x1="699.5" y1="309.205" x2="706.5" y2="313.66" stroke="#111" stroke-width="1.1"/>
<line x1="699.5" y1="309.205" x2="706.5" y2="318.25" stroke="#111" stroke-width="1.1"/>
<line x1="699.5" y1="313.66" x2="706.5" y2="304.75" stroke="#111" stroke-width="1.1"/>
<line x1="699.5" y1="313.66" x2="706.5" y2="309.205" stroke="#111" stroke-width="1.1"/>
<line x1="699.5" y1="313.66" x2="706.5" y2="313.66" stroke="#111" stroke-width="1.1"/>
<line x1="699.5" y1="313.66" x2="706.5" y2="318.25" stroke="#111" stroke-width="1.1"/>
<line x1="699.5" y1="318.25" x2="706.5" y2="304.75" stroke="#111" stroke-width="1.1"/>
<line x1="699.5" y1="318.25" x2="706.5" y2="309.205" stroke="#111" stroke-width="1.1"/>
<line x1="699.5" y1="318.25" x2="706.5" y2="313.66" stroke="#111" stroke-width="1.1"/>
<line x1="699.5" y1="318.25" x2="706.5" y2="318.25" stroke="#111" stroke-width="1.1"/>
<circle cx="699.5" cy="304.75" r="0.9" fill="#111"/>
<circle cx="706.5" cy="304.75" r="0.9" fill="#111"/>
<circle cx="699.5" cy="309.205" r="0.9" fill="#111"/>
<circle cx="706.5" cy="309.205" r="0.9" fill="#111"/>
<circle cx="699.5" cy="313.66" r="0.9" fill="#111"/>
<circle cx="706.5" cy="313.66" r="0.9" fill="#111"/>
<circle cx="699.5" cy="318.25" r="0.9" fill="#111"/>
<circle cx="706.5" cy="318.25" r="0.9" fill="#111"/>
<line x1="641.25" y1="316.25" x2="641.25" y2="357.5" stroke="#7a7a7a" stroke-width="0.9"/>
<path d="M644.25,319.75 L652.25,316.75 L652.25,333.4625 L644.25,336.4625 Z" fill="#f2d6ce"/>
<path d="M646.25,319.75 L649.25,318.25 L649.25,334.9625 L646.25,335.4625 Z" fill="#e9bfb2"/>
<line x1="654.25" y1="317.75" x2="654.25" y2="335.4625" stroke="#dcc09a" stroke-width="1"/>
<line x1="658.75" y1="318.25" x2="658.75" y2="334.9625" stroke="#666" stroke-width="0.9"/>
<path d="M644.25,340.2875 L652.25,337.2875 L652.25,354.0 L644.25,357.0 Z" fill="#f2d6ce"/>
<path d="M646.25,340.2875 L649.25,338.7875 L649.25,355.5 L646.25,356.0 Z" fill="#e9bfb2"/>
<line x1="654.25" y1="338.2875" x2="654.25" y2="356.0" stroke="#dcc09a" stroke-width="1"/>
<line x1="658.75" y1="338.7875" x2="658.75" y2="355.5" stroke="#666" stroke-width="0.9"/>
<line x1="662.75" y1="319.25" x2="669.75" y2="319.25" stroke="#111" stroke-width="1.1"/>
<line x1="662.75" y1="319.25" x2="669.75" y2="323.43275" stroke="#111" stroke-width="1.1"/>
<line x1="662.75" y1="319.25" x2="669.75" y2="327.6155" stroke="#111" stroke-width="1.1"/>
<line x1="662.75" y1="319.25" x2="669.75" y2="331.925" stroke="#111" stroke-width="1.1"/>
<line x1="662.75" y1="323.43275" x2="669.75" y2="319.25" stroke="#111" stroke-width="1.1"/>
<line x1="662.75" y1="323.43275" x2="669.75" y2="323.43275" stroke="#111" stroke-width="1.1"/>
<line x1="662.75" y1="323.43275" x2="669.75" y2="327.6155" stroke="#111" stroke-width="1.1"/>
<line x1="662.75" y1="323.43275" x2="669.75" y2="331.925" stroke="#111" stroke-width="1.1"/>
<line x1="662.75" y1="327.6155" x2="669.75" y2="319.25" stroke="#111" stroke-width="1.1"/>
<line x1="662.75" y1="327.6155" x2="669.75" y2="323.43275" stroke="#111" stroke-width="1.1"/>
<line x1="662.75" y1="327.6155" x2="669.75" y2="327.6155" stroke="#111" stroke-width="1.1"/>
<line x1="662.75" y1="327.6155" x2="669.75" y2="331.925" stroke="#111" stroke-width="1.1"/>
<line x1="662.75" y1="331.925" x2="669.75" y2="319.25" stroke="#111" stroke-width="1.1"/>
<line x1="662.75" y1="331.925" x2="669.75" y2="323.43275" stroke="#111" stroke-width="1.1"/>
<line x1="662.75" y1="331.925" x2="669.75" y2="327.6155" stroke="#111" stroke-width="1.1"/>
<line x1="662.75" y1="331.925" x2="669.75" y2="331.925" stroke="#111" stroke-width="1.1"/>
<circle cx="662.75" cy="319.25" r="0.9" fill="#111"/>
<circle cx="669.75" cy="319.25" r="0.9" fill="#111"/>
<circle cx="662.75" cy="323.43275" r="0.9" fill="#111"/>
<circle cx="669.75" cy="323.43275" r="0.9" fill="#111"/>
<circle cx="662.75" cy="327.6155" r="0.9" fill="#111"/>
<circle cx="669.75" cy="327.6155" r="0.9" fill="#111"/>
<circle cx="662.75" cy="331.925" r="0.9" fill="#111"/>
<circle cx="669.75" cy="331.925" r="0.9" fill="#111"/>
<line x1="662.75" y1="341.0" x2="669.75" y2="341.0" stroke="#111" stroke-width="1.1"/>
<line x1="662.75" y1="341.0" x2="669.75" y2="345.455" stroke="#111" stroke-width="1.1"/>
<line x1="662.75" y1="341.0" x2="669.75" y2="349.91" stroke="#111" stroke-width="1.1"/>
<line x1="662.75" y1="341.0" x2="669.75" y2="354.5" stroke="#111" stroke-width="1.1"/>
<line x1="662.75" y1="345.455" x2="669.75" y2="341.0" stroke="#111" stroke-width="1.1"/>
<line x1="662.75" y1="345.455" x2="669.75" y2="345.455" stroke="#111" stroke-width="1.1"/>
<line x1="662.75" y1="345.455" x2="669.75" y2="349.91" stroke="#111" stroke-width="1.1"/>
<line x1="662.75" y1="345.455" x2="669.75" y2="354.5" stroke="#111" stroke-width="1.1"/>
<line x1="662.75" y1="349.91" x2="669.75" y2="341.0" stroke="#111" stroke-width="1.1"/>
<line x1="662.75" y1="349.91" x2="669.75" y2="345.455" stroke="#111" stroke-width="1.1"/>
<line x1="662.75" y1="349.91" x2="669.75" y2="349.91" stroke="#111" stroke-width="1.1"/>
<line x1="662.75" y1="349.91" x2="669.75" y2="354.5" stroke="#111" stroke-width="1.1"/>
<line x1="662.75" y1="354.5" x2="669.75" y2="341.0" stroke="#111" stroke-width="1.1"/>
<line x1="662.75" y1="354.5" x2="669.75" y2="345.455" stroke="#111" stroke-width="1.1"/>
<line x1="662.75" y1="354.5" x2="669.75" y2="349.91" stroke="#111" stroke-width="1.1"/>
<line x1="662.75" y1="354.5" x2="669.75" y2="354.5" stroke="#111" stroke-width="1.1"/>
<circle cx="662.75" cy="341.0" r="0.9" fill="#111"/>
<circle cx="669.75" cy="341.0" r="0.9" fill="#111"/>
<circle cx="662.75" cy="345.455" r="0.9" fill="#111"/>
<circle cx="669.75" cy="345.455" r="0.9" fill="#111"/>
<circle cx="662.75" cy="349.91" r="0.9" fill="#111"/>
<circle cx="669.75" cy="349.91" r="0.9" fill="#111"/>
<circle cx="662.75" cy="354.5" r="0.9" fill="#111"/>
<circle cx="669.75" cy="354.5" r="0.9" fill="#111"/>
<line x1="605.7" y1="353.5" x2="605.7" y2="395" stroke="#7a7a7a" stroke-width="0.9"/>
<path d="M608.7,357.0 L616.7,354.0 L616.7,370.835 L608.7,373.835 Z" fill="#f2d6ce"/>
<path d="M610.7,357.0 L613.7,355.5 L613.7,372.335 L610.7,372.835 Z" fill="#e9bfb2"/>
<line x1="618.7" y1="355.0" x2="618.7" y2="372.835" stroke="#dcc09a" stroke-width="1"/>
<line x1="623.2" y1="355.5" x2="623.2" y2="372.335" stroke="#666" stroke-width="0.9"/>
<path d="M608.7,377.665 L616.7,374.665 L616.7,391.5 L608.7,394.5 Z" fill="#f2d6ce"/>
<path d="M610.7,377.665 L613.7,376.165 L613.7,393.0 L610.7,393.5 Z" fill="#e9bfb2"/>
<line x1="618.7" y1="375.665" x2="618.7" y2="393.5" stroke="#dcc09a" stroke-width="1"/>
<line x1="623.2" y1="376.165" x2="623.2" y2="393.0" stroke="#666" stroke-width="0.9"/>
<line x1="627.2" y1="356.5" x2="634.2" y2="356.5" stroke="#111" stroke-width="1.1"/>
<line x1="627.2" y1="356.5" x2="634.2" y2="360.7141" stroke="#111" stroke-width="1.1"/>
<line x1="627.2" y1="356.5" x2="634.2" y2="364.9282" stroke="#111" stroke-width="1.1"/>
<line x1="627.2" y1="356.5" x2="634.2" y2="369.27" stroke="#111" stroke-width="1.1"/>
<line x1="627.2" y1="360.7141" x2="634.2" y2="356.5" stroke="#111" stroke-width="1.1"/>
<line x1="627.2" y1="360.7141" x2="634.2" y2="360.7141" stroke="#111" stroke-width="1.1"/>
<line x1="627.2" y1="360.7141" x2="634.2" y2="364.9282" stroke="#111" stroke-width="1.1"/>
<line x1="627.2" y1="360.7141" x2="634.2" y2="369.27" stroke="#111" stroke-width="1.1"/>
<line x1="627.2" y1="364.9282" x2="634.2" y2="356.5" stroke="#111" stroke-width="1.1"/>
<line x1="627.2" y1="364.9282" x2="634.2" y2="360.7141" stroke="#111" stroke-width="1.1"/>
<line x1="627.2" y1="364.9282" x2="634.2" y2="364.9282" stroke="#111" stroke-width="1.1"/>
<line x1="627.2" y1="364.9282" x2="634.2" y2="369.27" stroke="#111" stroke-width="1.1"/>
<line x1="627.2" y1="369.27" x2="634.2" y2="356.5" stroke="#111" stroke-width="1.1"/>
<line x1="627.2" y1="369.27" x2="634.2" y2="360.7141" stroke="#111" stroke-width="1.1"/>
<line x1="627.2" y1="369.27" x2="634.2" y2="364.9282" stroke="#111" stroke-width="1.1"/>
<line x1="627.2" y1="369.27" x2="634.2" y2="369.27" stroke="#111" stroke-width="1.1"/>
<circle cx="627.2" cy="356.5" r="0.9" fill="#111"/>
<circle cx="634.2" cy="356.5" r="0.9" fill="#111"/>
<circle cx="627.2" cy="360.7141" r="0.9" fill="#111"/>
<circle cx="634.2" cy="360.7141" r="0.9" fill="#111"/>
<circle cx="627.2" cy="364.9282" r="0.9" fill="#111"/>
<circle cx="634.2" cy="364.9282" r="0.9" fill="#111"/>
<circle cx="627.2" cy="369.27" r="0.9" fill="#111"/>
<circle cx="634.2" cy="369.27" r="0.9" fill="#111"/>
<line x1="627.2" y1="378.4" x2="634.2" y2="378.4" stroke="#111" stroke-width="1.1"/>
<line x1="627.2" y1="378.4" x2="634.2" y2="382.888" stroke="#111" stroke-width="1.1"/>
<line x1="627.2" y1="378.4" x2="634.2" y2="387.376" stroke="#111" stroke-width="1.1"/>
<line x1="627.2" y1="378.4" x2="634.2" y2="392.0" stroke="#111" stroke-width="1.1"/>
<line x1="627.2" y1="382.888" x2="634.2" y2="378.4" stroke="#111" stroke-width="1.1"/>
<line x1="627.2" y1="382.888" x2="634.2" y2="382.888" stroke="#111" stroke-width="1.1"/>
<line x1="627.2" y1="382.888" x2="634.2" y2="387.376" stroke="#111" stroke-width="1.1"/>
<line x1="627.2" y1="382.888" x2="634.2" y2="392.0" stroke="#111" stroke-width="1.1"/>
<line x1="627.2" y1="387.376" x2="634.2" y2="378.4" stroke="#111" stroke-width="1.1"/>
<line x1="627.2" y1="387.376" x2="634.2" y2="382.888" stroke="#111" stroke-width="1.1"/>
<line x1="627.2" y1="387.376" x2="634.2" y2="387.376" stroke="#111" stroke-width="1.1"/>
<line x1="627.2" y1="387.376" x2="634.2" y2="392.0" stroke="#111" stroke-width="1.1"/>
<line x1="627.2" y1="392.0" x2="634.2" y2="378.4" stroke="#111" stroke-width="1.1"/>
<line x1="627.2" y1="392.0" x2="634.2" y2="382.888" stroke="#111" stroke-width="1.1"/>
<line x1="627.2" y1="392.0" x2="634.2" y2="387.376" stroke="#111" stroke-width="1.1"/>
<line x1="627.2" y1="392.0" x2="634.2" y2="392.0" stroke="#111" stroke-width="1.1"/>
<circle cx="627.2" cy="378.4" r="0.9" fill="#111"/>
<circle cx="634.2" cy="378.4" r="0.9" fill="#111"/>
<circle cx="627.2" cy="382.888" r="0.9" fill="#111"/>
<circle cx="634.2" cy="382.888" r="0.9" fill="#111"/>
<circle cx="627.2" cy="387.376" r="0.9" fill="#111"/>
<circle cx="634.2" cy="387.376" r="0.9" fill="#111"/>
<circle cx="627.2" cy="392.0" r="0.9" fill="#111"/>
<circle cx="634.2" cy="392.0" r="0.9" fill="#111"/>
<text x="16.7" y="431.5" font-size="10.5" font-weight="bold" fill="#111">e</text>
<rect x="193.9" y="436.4" width="76.9" height="23.100000000000023" fill="#d8d8d8" opacity="0.45"/>
<rect x="193.4" y="435.4" width="76.9" height="23.100000000000023" fill="#f2f2f2" stroke="#acacac" stroke-width="1.1"/>
<text x="201.9" y="445.60" font-size="6" fill="#343434" stroke="#343434" stroke-width="0.2" textLength="59.3" lengthAdjust="spacingAndGlyphs">asynchronous agent</text>
<text x="214.6" y="452.90" font-size="6" fill="#343434" stroke="#343434" stroke-width="0.2" textLength="35.1" lengthAdjust="spacingAndGlyphs">experiences</text>
<rect x="303.0" y="436.4" width="84.10000000000002" height="23.100000000000023" fill="#d8d8d8" opacity="0.45"/>
<rect x="302.5" y="435.4" width="84.10000000000002" height="23.100000000000023" fill="#f2f2f2" stroke="#acacac" stroke-width="1.1"/>
<text x="314.2" y="445.30" font-size="6" fill="#343434" stroke="#343434" stroke-width="0.2" textLength="58.8" lengthAdjust="spacingAndGlyphs">asynchronous agent</text>
<text x="308.3" y="452.40" font-size="6" fill="#343434" stroke="#343434" stroke-width="0.2" textLength="72.5" lengthAdjust="spacingAndGlyphs">experience replay buffer</text>
<rect x="207.1" y="495.4" width="48.599999999999994" height="47.30000000000007" fill="#fff" stroke="#6e6e6e" stroke-width="1.3"/>
<rect x="248.5" y="495.9" width="3.6" height="28.38000000000004" rx="1.4" fill="#6c6c6c"/>
<rect x="248.5" y="534.186" width="3.6" height="8.514000000000012" fill="#6c6c6c"/>
<line x1="253.7" y1="495.4" x2="253.7" y2="542.7" stroke="#c4c4c4" stroke-width="0.8"/>
<circle cx="220.3" cy="510.7" r="1.1" fill="#7a6a6a"/>
<circle cx="235.7" cy="503.5" r="1.1" fill="#7a6a6a"/>
<circle cx="242.2" cy="516.7" r="1.1" fill="#7a6a6a"/>
<circle cx="236.7" cy="523.8" r="1.1" fill="#7a6a6a"/>
<circle cx="229.2" cy="537.0" r="1.1" fill="#7a6a6a"/>
<line x1="256" y1="518" x2="306.5" y2="518" stroke="#666" stroke-width="1"/>
<line x1="375.5" y1="507.5" x2="457.2" y2="519.3" stroke="#444" stroke-width="0.9"/>
<line x1="382.4" y1="514.0" x2="457.2" y2="519.3" stroke="#444" stroke-width="0.9"/>
<line x1="389.3" y1="520.5" x2="457.2" y2="519.3" stroke="#444" stroke-width="0.9"/>
<line x1="396.2" y1="527.0" x2="457.2" y2="519.3" stroke="#444" stroke-width="0.9"/>
<line x1="403.1" y1="533.5" x2="457.2" y2="519.3" stroke="#444" stroke-width="0.9"/>
<rect x="299.5" y="500.0" width="76" height="15" rx="2.5" fill="#fff" stroke="#6a6a6a" stroke-width="1.15"/>
<path d="M318.5,504.8 l1.55,-3.4 l1.55,3.4" fill="none" stroke="#222" stroke-width="0.95"/>
<path d="M321.6,504.8 l1.55,-3.4 l1.55,3.4" fill="none" stroke="#222" stroke-width="0.95"/>
<path d="M324.7,504.8 l1.55,-3.4 l1.55,3.4" fill="none" stroke="#222" stroke-width="0.95"/>
<path d="M327.8,504.8 l1.55,-3.4 l1.55,3.4" fill="none" stroke="#222" stroke-width="0.95"/>
<path d="M330.9,504.8 l1.55,-3.4 l1.55,3.4" fill="none" stroke="#222" stroke-width="0.95"/>
<path d="M334.0,504.8 l1.55,-3.4 l1.55,3.4" fill="none" stroke="#222" stroke-width="0.95"/>
<path d="M337.1,504.8 l1.55,-3.4 l1.55,3.4" fill="none" stroke="#222" stroke-width="0.95"/>
<path d="M340.2,504.8 l1.55,-3.4 l1.55,3.4" fill="none" stroke="#222" stroke-width="0.95"/>
<path d="M343.3,504.8 l1.55,-3.4 l1.55,3.4" fill="none" stroke="#222" stroke-width="0.95"/>
<path d="M346.4,504.8 l1.55,-3.4 l1.55,3.4" fill="none" stroke="#222" stroke-width="0.95"/>
<rect x="306.4" y="506.5" width="76" height="15" rx="2.5" fill="#fff" stroke="#6a6a6a" stroke-width="1.15"/>
<path d="M325.4,511.3 l1.55,-3.4 l1.55,3.4" fill="none" stroke="#222" stroke-width="0.95"/>
<path d="M328.5,511.3 l1.55,-3.4 l1.55,3.4" fill="none" stroke="#222" stroke-width="0.95"/>
<path d="M331.59999999999997,511.3 l1.55,-3.4 l1.55,3.4" fill="none" stroke="#222" stroke-width="0.95"/>
<path d="M334.7,511.3 l1.55,-3.4 l1.55,3.4" fill="none" stroke="#222" stroke-width="0.95"/>
<path d="M337.79999999999995,511.3 l1.55,-3.4 l1.55,3.4" fill="none" stroke="#222" stroke-width="0.95"/>
<path d="M340.9,511.3 l1.55,-3.4 l1.55,3.4" fill="none" stroke="#222" stroke-width="0.95"/>
<path d="M344.0,511.3 l1.55,-3.4 l1.55,3.4" fill="none" stroke="#222" stroke-width="0.95"/>
<path d="M347.09999999999997,511.3 l1.55,-3.4 l1.55,3.4" fill="none" stroke="#222" stroke-width="0.95"/>
<path d="M350.2,511.3 l1.55,-3.4 l1.55,3.4" fill="none" stroke="#222" stroke-width="0.95"/>
<path d="M353.29999999999995,511.3 l1.55,-3.4 l1.55,3.4" fill="none" stroke="#222" stroke-width="0.95"/>
<rect x="313.3" y="513.0" width="76" height="15" rx="2.5" fill="#fff" stroke="#6a6a6a" stroke-width="1.15"/>
<path d="M332.3,517.8 l1.55,-3.4 l1.55,3.4" fill="none" stroke="#222" stroke-width="0.95"/>
<path d="M335.40000000000003,517.8 l1.55,-3.4 l1.55,3.4" fill="none" stroke="#222" stroke-width="0.95"/>
<path d="M338.5,517.8 l1.55,-3.4 l1.55,3.4" fill="none" stroke="#222" stroke-width="0.95"/>
<path d="M341.6,517.8 l1.55,-3.4 l1.55,3.4" fill="none" stroke="#222" stroke-width="0.95"/>
<path d="M344.7,517.8 l1.55,-3.4 l1.55,3.4" fill="none" stroke="#222" stroke-width="0.95"/>
<path d="M347.8,517.8 l1.55,-3.4 l1.55,3.4" fill="none" stroke="#222" stroke-width="0.95"/>
<path d="M350.90000000000003,517.8 l1.55,-3.4 l1.55,3.4" fill="none" stroke="#222" stroke-width="0.95"/>
<path d="M354.0,517.8 l1.55,-3.4 l1.55,3.4" fill="none" stroke="#222" stroke-width="0.95"/>
<path d="M357.1,517.8 l1.55,-3.4 l1.55,3.4" fill="none" stroke="#222" stroke-width="0.95"/>
<path d="M360.2,517.8 l1.55,-3.4 l1.55,3.4" fill="none" stroke="#222" stroke-width="0.95"/>
<rect x="320.2" y="519.5" width="76" height="15" rx="2.5" fill="#fff" stroke="#6a6a6a" stroke-width="1.15"/>
<path d="M339.2,524.3 l1.55,-3.4 l1.55,3.4" fill="none" stroke="#222" stroke-width="0.95"/>
<path d="M342.3,524.3 l1.55,-3.4 l1.55,3.4" fill="none" stroke="#222" stroke-width="0.95"/>
<path d="M345.4,524.3 l1.55,-3.4 l1.55,3.4" fill="none" stroke="#222" stroke-width="0.95"/>
<path d="M348.5,524.3 l1.55,-3.4 l1.55,3.4" fill="none" stroke="#222" stroke-width="0.95"/>
<path d="M351.59999999999997,524.3 l1.55,-3.4 l1.55,3.4" fill="none" stroke="#222" stroke-width="0.95"/>
<path d="M354.7,524.3 l1.55,-3.4 l1.55,3.4" fill="none" stroke="#222" stroke-width="0.95"/>
<path d="M357.8,524.3 l1.55,-3.4 l1.55,3.4" fill="none" stroke="#222" stroke-width="0.95"/>
<path d="M360.9,524.3 l1.55,-3.4 l1.55,3.4" fill="none" stroke="#222" stroke-width="0.95"/>
<path d="M364.0,524.3 l1.55,-3.4 l1.55,3.4" fill="none" stroke="#222" stroke-width="0.95"/>
<path d="M367.09999999999997,524.3 l1.55,-3.4 l1.55,3.4" fill="none" stroke="#222" stroke-width="0.95"/>
<rect x="327.1" y="526.0" width="76" height="15" rx="2.5" fill="#fff" stroke="#6a6a6a" stroke-width="1.15"/>
<ellipse cx="346.1" cy="533.5" rx="1.7" ry="4.7" fill="none" stroke="#3a3a3a" stroke-width="0.9" transform="rotate(28 346.1 533.5)"/>
<ellipse cx="349.3" cy="533.5" rx="1.7" ry="4.7" fill="none" stroke="#3a3a3a" stroke-width="0.9" transform="rotate(28 349.3 533.5)"/>
<ellipse cx="352.5" cy="533.5" rx="1.7" ry="4.7" fill="none" stroke="#3a3a3a" stroke-width="0.9" transform="rotate(28 352.5 533.5)"/>
<ellipse cx="355.70000000000005" cy="533.5" rx="1.7" ry="4.7" fill="none" stroke="#3a3a3a" stroke-width="0.9" transform="rotate(28 355.70000000000005 533.5)"/>
<ellipse cx="358.90000000000003" cy="533.5" rx="1.7" ry="4.7" fill="none" stroke="#3a3a3a" stroke-width="0.9" transform="rotate(28 358.90000000000003 533.5)"/>
<ellipse cx="362.1" cy="533.5" rx="1.7" ry="4.7" fill="none" stroke="#3a3a3a" stroke-width="0.9" transform="rotate(28 362.1 533.5)"/>
<ellipse cx="365.3" cy="533.5" rx="1.7" ry="4.7" fill="none" stroke="#3a3a3a" stroke-width="0.9" transform="rotate(28 365.3 533.5)"/>
<ellipse cx="368.5" cy="533.5" rx="1.7" ry="4.7" fill="none" stroke="#3a3a3a" stroke-width="0.9" transform="rotate(28 368.5 533.5)"/>
<ellipse cx="371.70000000000005" cy="533.5" rx="1.7" ry="4.7" fill="none" stroke="#3a3a3a" stroke-width="0.9" transform="rotate(28 371.70000000000005 533.5)"/>
<ellipse cx="374.90000000000003" cy="533.5" rx="1.7" ry="4.7" fill="none" stroke="#3a3a3a" stroke-width="0.9" transform="rotate(28 374.90000000000003 533.5)"/>
<ellipse cx="378.1" cy="533.5" rx="1.7" ry="4.7" fill="none" stroke="#3a3a3a" stroke-width="0.9" transform="rotate(28 378.1 533.5)"/>
<rect x="475.9" y="459.2" width="45.80000000000007" height="16.19999999999999" fill="#d8d8d8" opacity="0.45"/>
<rect x="475.4" y="458.2" width="45.80000000000007" height="16.19999999999999" fill="#f2f2f2" stroke="#acacac" stroke-width="1.1"/>
<text x="480.4" y="468.40" font-size="6" fill="#343434" stroke="#343434" stroke-width="0.2" textLength="36.2" lengthAdjust="spacingAndGlyphs">A3C network</text>
<ellipse cx="489.9" cy="520.05" rx="40" ry="40.150000000000034" fill="url(#warm)"/>
<path d="M459.9,499.4 L471.9,487.9 L471.9,540.7 L459.9,552.2 Z" fill="#efcdc6" stroke="#cfa49c" stroke-width="0.8" opacity="1"/>
<path d="M471.9,501.9 L483.9,492.9 L483.9,536.2 L471.9,545.2 Z" fill="#f5e2c4" stroke="#ecd6b8" stroke-width="0.8" opacity="1"/>
<line x1="494" y1="495" x2="494" y2="546.2" stroke="#555" stroke-width="1"/>
<line x1="492.5" y1="495" x2="496" y2="495" stroke="#555" stroke-width="1"/>
<line x1="492.5" y1="546.2" x2="496" y2="546.2" stroke="#555" stroke-width="1"/>
<circle cx="508.6" cy="494" r="4.6" fill="#dbe8f0" stroke="#a9c6d8" stroke-width="0.8" opacity="1"/>
<circle cx="508.6" cy="509" r="4.6" fill="#dbe8f0" stroke="#a9c6d8" stroke-width="0.8" opacity="1"/>
<circle cx="508.6" cy="526.3" r="4.6" fill="#dbe8f0" stroke="#a9c6d8" stroke-width="0.8" opacity="1"/>
<circle cx="508.6" cy="544.7" r="4.6" fill="#dbe8f0" stroke="#a9c6d8" stroke-width="0.8" opacity="1"/>
<circle cx="530.6" cy="500" r="5" fill="#fbf9ef" stroke="#fbf9ef" stroke-width="0.8" opacity="1"/>
<circle cx="530.6" cy="519.35" r="5" fill="#fbf9ef" stroke="#fbf9ef" stroke-width="0.8" opacity="1"/>
<circle cx="530.6" cy="538.7" r="5" fill="#fbf9ef" stroke="#fbf9ef" stroke-width="0.8" opacity="1"/>
<line x1="513.4" y1="494" x2="526.3" y2="500" stroke="#262626" stroke-width="0.9"/>
<line x1="513.4" y1="494" x2="526.3" y2="519" stroke="#262626" stroke-width="0.9"/>
<line x1="513.4" y1="494" x2="526.3" y2="538" stroke="#262626" stroke-width="0.9"/>
<line x1="513.4" y1="509" x2="526.3" y2="500" stroke="#262626" stroke-width="0.9"/>
<line x1="513.4" y1="509" x2="526.3" y2="519" stroke="#262626" stroke-width="0.9"/>
<line x1="513.4" y1="509" x2="526.3" y2="538" stroke="#262626" stroke-width="0.9"/>
<line x1="513.4" y1="526.3" x2="526.3" y2="500" stroke="#262626" stroke-width="0.9"/>
<line x1="513.4" y1="526.3" x2="526.3" y2="519" stroke="#262626" stroke-width="0.9"/>
<line x1="513.4" y1="526.3" x2="526.3" y2="538" stroke="#262626" stroke-width="0.9"/>
<line x1="513.4" y1="544.7" x2="526.3" y2="500" stroke="#262626" stroke-width="0.9"/>
<line x1="513.4" y1="544.7" x2="526.3" y2="519" stroke="#262626" stroke-width="0.9"/>
<line x1="513.4" y1="544.7" x2="526.3" y2="538" stroke="#262626" stroke-width="0.9"/>
</svg>
</body></html>
